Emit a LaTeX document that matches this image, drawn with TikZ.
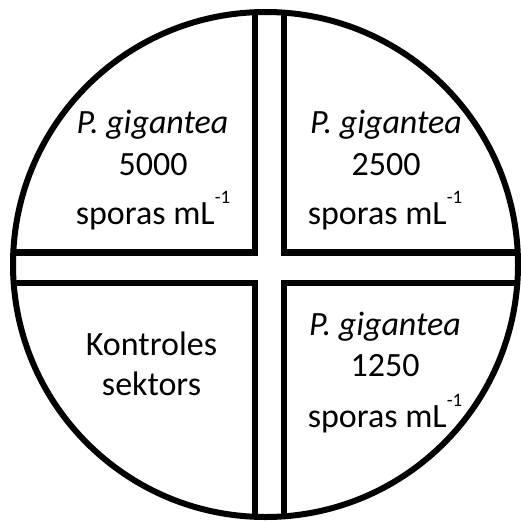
\documentclass[tikz,border=0pt]{standalone}
\usepackage{fontspec}
\setmainfont{Carlito}
\begin{document}
\begin{tikzpicture}[x=1pt,y=-1pt,
  lbl/.style={anchor=base,inner sep=0pt,font=\fontsize{34}{34}\selectfont},
  edge/.style={line width=6.5pt,line join=miter}]
\useasboundingbox (0,0) rectangle (520,522);
\coordinate (c) at (265.5,264.5);
\begin{scope}
\clip (c) circle [radius=252.5];
\draw[edge] (255,0) -- (255,252.5) -- (0,252.5);
\draw[edge] (284,0) -- (284,252.5) -- (520,252.5);
\draw[edge] (255,522) -- (255,283) -- (0,283);
\draw[edge] (284,522) -- (284,283) -- (520,283);
\end{scope}
\draw[line width=6pt] (c) circle [radius=252.5];
\newcommand{\spor}{sporas mL\raisebox{21pt}{\fontsize{19}{19}\selectfont -1}}
% top left
\node[lbl] (tl1) at (152.5,133) {\textit{P. gigantea}};
\node[lbl] (tl2) at (153,175) {5000};
\node[lbl] (tl3) at (153,224) {\spor};
% top right
\node[lbl] (tr1) at (386,133) {\textit{P. gigantea}};
\node[lbl] (tr2) at (386,175) {2500};
\node[lbl] (tr3) at (385,224) {\spor};
% bottom left
\node[lbl] (bl1) at (151.5,355) {Kontroles};
\node[lbl] (bl2) at (151.5,395) {sektors};
% bottom right
\node[lbl] (br1) at (385,335) {\textit{P. gigantea}};
\node[lbl] (br2) at (385,376) {1250};
\node[lbl] (br3) at (385,427) {\spor};
\end{tikzpicture}
\end{document}
